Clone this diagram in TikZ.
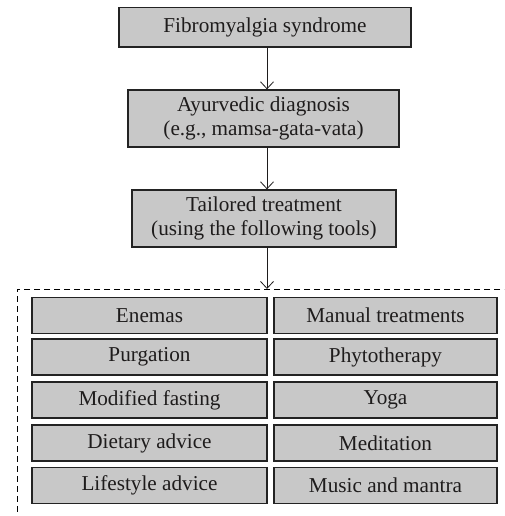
\documentclass[tikz,border=0pt]{standalone}
\usepackage{fontspec}
\setmainfont{Liberation Serif}
\usepackage{xcolor}
\usetikzlibrary{arrows.meta, positioning, calc}

\definecolor{boxgray}{RGB}{200,200,200}
\definecolor{boxline}{RGB}{35,35,35}
\definecolor{txt}{RGB}{30,28,28}

\tikzset{
  stagebox/.style={draw=boxline, line width=1.3pt, fill=boxgray, inner sep=0pt,
    align=center, text=txt, font=\fontsize{21.2}{24}\selectfont},
  toolbox/.style={stagebox, minimum height=36pt},
  flow/.style={-{Straight Barb[length=7pt,width=13pt]}, line width=0.8pt, draw=txt}
}

\begin{document}
\begin{tikzpicture}[x=1pt, y=-1pt]
  % Frame of the picture
  \useasboundingbox (0,0) rectangle (504,516);
  \clip (0,0) rectangle (504,516);

  % Stages
  \node[stagebox, minimum width=292pt, minimum height=39.5pt] (fib) at (265,27.3) {Fibromyalgia syndrome};
  \node[stagebox, minimum width=271pt, minimum height=57pt] (ayu) at (263.5,118.5) {Ayurvedic diagnosis\\(e.g., mamsa-gata-vata)};
  \node[stagebox, minimum width=264pt, minimum height=57pt] (tail) at (264,218.5) {Tailored treatment\\(using the following tools)};

  % Dashed frame round the tools
  \coordinate (dtl) at (17,289);
  \coordinate (ax) at (267,0);
  \draw[line width=0.9pt, dash pattern=on 6pt off 4pt] (530,289) -- (dtl) -- (17,540);

  % Tools, left column
  \node[toolbox, minimum width=235pt] (enem) at (149.5,315.5) {Enemas};
  \node[toolbox, minimum width=235pt] (purg) at (149.5,357) {Purgation};
  \node[toolbox, minimum width=235pt] (fast) at (149.5,400) {Modified fasting};
  \node[toolbox, minimum width=235pt] (diet) at (149.5,443) {Dietary advice};
  \node[toolbox, minimum width=235pt] (life) at (149.5,485.5) {Lifestyle advice};

  % Tools, right column
  \node[toolbox, minimum width=223pt] (manu) at (385.5,315.5) {Manual treatments};
  \node[toolbox, minimum width=223pt] (phyto) at (385.5,357) {Phytotherapy};
  \node[toolbox, minimum width=223pt] (yoga) at (385.5,400) {Yoga};
  \node[toolbox, minimum width=223pt] (medi) at (385.5,443) {Meditation};
  \node[toolbox, minimum width=223pt] (music) at (385.5,485.5) {Music and mantra};

  % Arrows
  \draw[flow] (fib.south -| ax) -- (ayu.north -| ax);
  \draw[flow] (ayu.south -| ax) -- (tail.north -| ax);
  \draw[flow] (tail.south -| ax) -- (ax |- dtl);
\end{tikzpicture}
\end{document}
